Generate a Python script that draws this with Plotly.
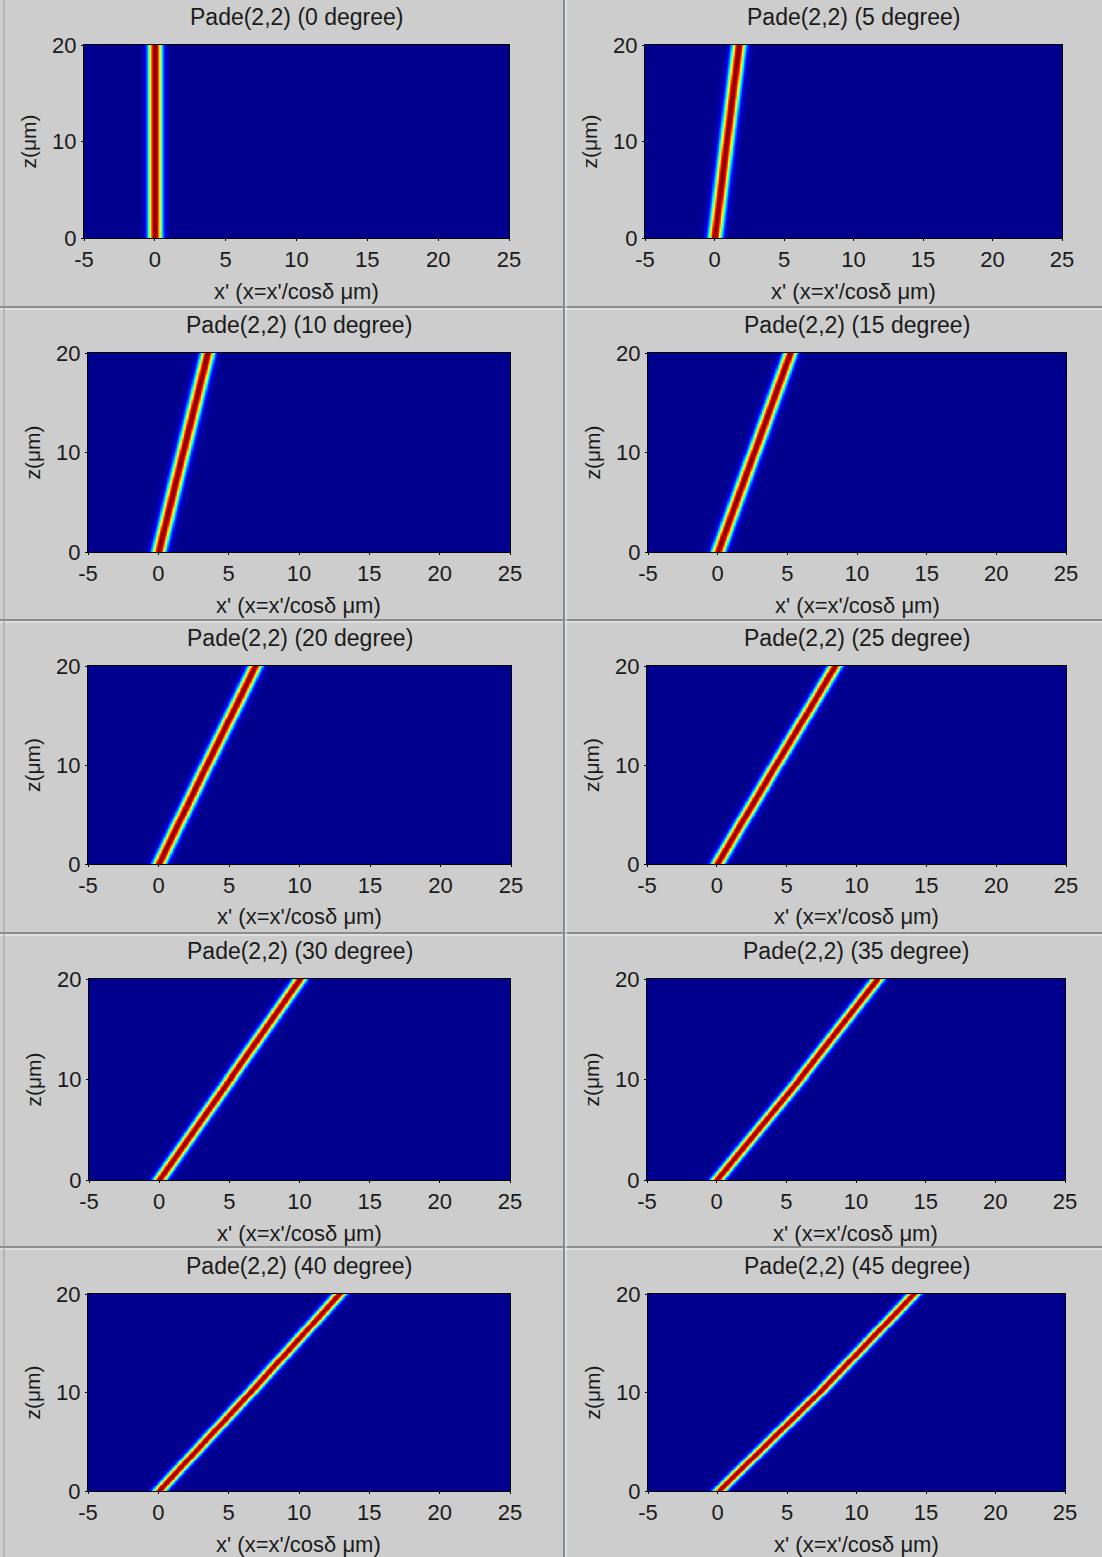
import numpy as np
import plotly.graph_objects as go

# ---- data ----
angles_deg = [0, 5, 10, 15, 20, 25, 30, 35, 40, 45]
# beam centre x' (um) at z = 0, z = 10 and z = 20
centre_z0 = [0.0, 0.0, 0.0, 0.0, 0.0, 0.0, 0.0, 0.0, 0.0, 0.05]
centre_z10 = [0.0, 0.87, 1.74, 2.6, 3.4, 4.2, 5.0, 5.9, 6.5, 7.3]
centre_z20 = [0.0, 1.75, 3.5, 5.2, 6.85, 8.45, 10.0, 11.5, 12.85, 14.1]
beam_sigma = 0.33
x_ticks = [-5, 0, 5, 10, 15, 20, 25]
x_ticktext = ["-5", "0", "5", "10", "15", "20", "25"]
z_ticks = [0, 10, 20]
z_ticktext = ["0", "10", "20"]
titles = [f"Pade(2,2) ({a} degree)" for a in angles_deg]

# ---- layout of panels in pixels (left, right, top, bottom) ----
W, H = 1102, 1557
panel_px = [
    (84, 509, 45, 238), (645, 1062, 45, 238),
    (88, 510, 353, 552), (648, 1066, 353, 552),
    (88, 511, 666, 864), (647, 1066, 666, 864),
    (89, 510, 979, 1180), (647, 1065, 979, 1180),
    (88, 510, 1294, 1491), (648, 1065, 1294, 1491),
]

jet = [
    [0.0, "rgb(0,0,143)"], [0.11, "rgb(0,0,255)"], [0.36, "rgb(0,255,255)"],
    [0.61, "rgb(255,255,0)"], [0.86, "rgb(255,0,0)"], [1.0, "rgb(128,0,0)"],
]

xg = np.round(np.arange(-5, 25.0001, 0.05), 3)
zg = np.round(np.arange(0, 20.0001, 0.25), 3)

BG = "#cdcdcd"
FONT = "Liberation Sans, Arial, sans-serif"
TXT = "#1a1a1a"

fig = go.Figure()
layout = {}
annotations = []


def px_x(p):
    return p / W


def px_y(p):
    return 1 - p / H


for i in range(10):
    l, r, t, b = panel_px[i]
    k = "" if i == 0 else str(i + 1)
    c = np.interp(zg, [0, 10, 20], [centre_z0[i], centre_z10[i], centre_z20[i]])
    field = np.exp(-((xg[None, :] - c[:, None]) ** 2) / (2 * beam_sigma ** 2))
    field = np.round(field, 3)
    fig.add_trace(go.Heatmap(
        x=xg, y=zg, z=field, colorscale=jet, zmin=0, zmax=1,
        showscale=False, zsmooth="best", hoverinfo="skip",
        xaxis="x" + k, yaxis="y" + k,
    ))
    layout["xaxis" + k] = dict(
        domain=[px_x(l), px_x(r)], range=[-5, 25], anchor="y" + k,
        tickvals=x_ticks, ticktext=x_ticktext, ticks="outside", ticklen=2,
        tickcolor="black",
        showline=True, linecolor="black", linewidth=1, mirror=True,
        showgrid=False, zeroline=False, ticklabelstandoff=0, automargin=False,
        tickfont=dict(family=FONT, size=22, color=TXT), fixedrange=True,
    )
    layout["yaxis" + k] = dict(
        domain=[px_y(b), px_y(t)], range=[0, 20], anchor="x" + k,
        tickvals=z_ticks, ticktext=z_ticktext, ticks="outside", ticklen=2,
        tickcolor="black",
        showline=True, linecolor="black", linewidth=1, mirror=True,
        showgrid=False, zeroline=False, ticklabelstandoff=0, automargin=False,
        tickfont=dict(family=FONT, size=22, color=TXT), fixedrange=True,
    )
    cx = (l + r) / 2
    annotations.append(dict(
        text=titles[i], x=px_x(cx), y=px_y(t - 28), xref="paper", yref="paper",
        xanchor="center", yanchor="middle", showarrow=False,
        font=dict(family=FONT, size=23, color=TXT),
    ))
    annotations.append(dict(
        text="x' (x=x'/cosδ μm)", x=px_x(cx), y=px_y(b + 53), xref="paper", yref="paper",
        xanchor="center", yanchor="middle", showarrow=False,
        font=dict(family=FONT, size=22, color=TXT),
    ))
    annotations.append(dict(
        text="z(μm)", x=px_x(l - 56), y=px_y((t + b) / 2), xref="paper", yref="paper",
        xanchor="center", yanchor="middle", showarrow=False, textangle=-90,
        font=dict(family=FONT, size=21, color=TXT),
    ))

shapes = []
for yy in [307, 620, 933, 1247]:
    shapes.append(dict(type="line", xref="paper", yref="paper", x0=0, x1=1,
                       y0=px_y(yy), y1=px_y(yy), line=dict(color="#8c8c8c", width=2)))
    shapes.append(dict(type="line", xref="paper", yref="paper", x0=0, x1=1,
                       y0=px_y(yy + 2), y1=px_y(yy + 2), line=dict(color="#f0f0f0", width=1)))
shapes.append(dict(type="line", xref="paper", yref="paper", x0=px_x(564), x1=px_x(564),
                   y0=0, y1=1, line=dict(color="#7f8c99", width=2)))
shapes.append(dict(type="line", xref="paper", yref="paper", x0=px_x(566), x1=px_x(566),
                   y0=0, y1=1, line=dict(color="#f2f2f2", width=1)))
shapes.append(dict(type="line", xref="paper", yref="paper", x0=px_x(4), x1=px_x(4),
                   y0=0, y1=1, line=dict(color="#9a9a9a", width=1)))

fig.update_layout(
    width=W, height=H, autosize=False,
    margin=dict(l=0, r=0, t=0, b=0, pad=0, autoexpand=False),
    paper_bgcolor=BG, plot_bgcolor="rgb(0,0,143)",
    showlegend=False, annotations=annotations, shapes=shapes,
    **layout,
)

fig.write_html(
    "out.html",
    config={"responsive": False, "displayModeBar": False},
    post_script="document.body.style.margin='0';document.body.style.overflow='hidden';",
)
